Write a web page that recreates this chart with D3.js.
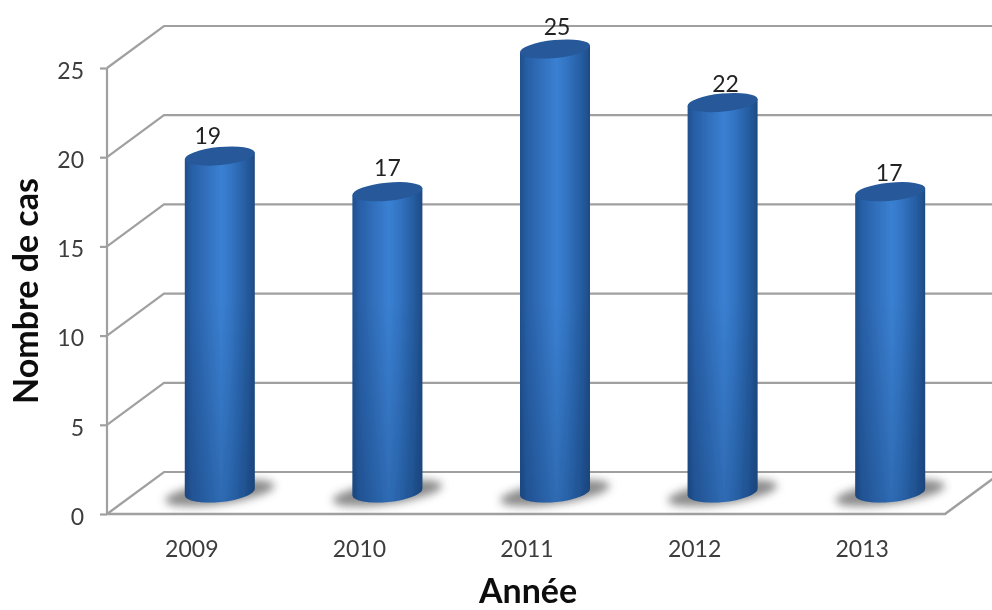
<!DOCTYPE html>
<html><head><meta charset="utf-8">
<script src="https://cdn.jsdelivr.net/npm/d3@7"></script>
<style>html,body{margin:0;padding:0;background:#fff}svg{display:block}text{font-family:Lato,"Open Sans",sans-serif}</style>
</head><body><div id="c"></div>
<script>
const years = ["2009","2010","2011","2012","2013"];
const cases = [19,17,25,22,17];
const yTicks = [0,5,10,15,20,25];
const yTitle = "Nombre de cas";
const xTitle = "Année";
// hand placement of the value labels relative to each bar top
const labelDx = [-12,0,2,3,-1];
const labelDy = [-11,-15,-13,-10,-10];

const W=992,H=610;
const x=d3.scaleBand().domain(years).range([107,945]);
const y=d3.scaleLinear().domain([0,25]).range([514,68]);
const depthX=57, depthY=42, barShift=29, rx=35, ryTop=9, ryBase=10, tilt=-5.7, topOff=19, baseOff=22;
const gridCol="#a0a0a0", tickCol="#3d3d3d", ink="#222";
const svg=d3.select("#c").append("svg").attr("width",W).attr("height",H);
const defs=svg.append("defs");
const g=defs.append("linearGradient").attr("id","body");
[[0,"#204f8c"],[.1,"#285fa6"],[.52,"#3a80d2"],[.66,"#3375c4"],[.88,"#255c9f"],[1,"#1e4b85"]]
 .forEach(s=>g.append("stop").attr("offset",s[0]).attr("stop-color",s[1]));
const dark=defs.append("linearGradient").attr("id","shade").attr("gradientUnits","userSpaceOnUse")
 .attr("x1",0).attr("x2",0).attr("y1",y(12)).attr("y2",y(0));
dark.append("stop").attr("offset",0).attr("stop-color","#0b2a55").attr("stop-opacity",0);
dark.append("stop").attr("offset",1).attr("stop-color","#0b2a55").attr("stop-opacity",.26);
defs.append("filter").attr("id","blur").attr("x","-30%").attr("y","-80%").attr("width","160%").attr("height","260%")
 .append("feGaussianBlur").attr("stdDeviation",4);
defs.append("filter").attr("id","soft").attr("filterUnits","userSpaceOnUse").attr("x",0).attr("y",0).attr("width",W).attr("height",H)
 .append("feGaussianBlur").attr("stdDeviation",0.45);

const root=svg.append("g").attr("filter","url(#soft)");
const walls=root.append("g");
walls.selectAll("path.grid").data(yTicks).join("path").attr("class","grid")
 .attr("fill","none").attr("stroke",gridCol).attr("stroke-width",2.2)
 .attr("d",d=>`M${x.range()[0]},${y(d)}L${x.range()[0]+depthX},${y(d)-depthY}H${W}`);
walls.append("path").attr("fill","none").attr("stroke",gridCol).attr("stroke-width",2.5)
 .attr("d",`M${x.range()[0]},${y(0)}H${x.range()[1]}L${x.range()[1]+depthX},${y(0)-depthY}`);

const axisY=d3.axisLeft(y).tickValues(yTicks).tickSize(7).tickPadding(16).tickFormat(d3.format("d"));
const ay=root.append("g").attr("transform",`translate(${x.range()[0]},0)`).call(axisY);
ay.selectAll(".domain,line").attr("stroke",gridCol).attr("stroke-width",2.2);
ay.select(".domain").attr("d",`M0,${y(0)}V${y(25)}`);
ay.selectAll("text").style("font-size","23px").attr("fill",tickCol).attr("y",3);

const axisX=d3.axisBottom(x).tickSize(0).tickPadding(27);
const ax=root.append("g").attr("transform",`translate(1,${y(0)})`).call(axisX);
ax.select(".domain").remove();
ax.selectAll("text").style("font-size","23px").attr("fill",tickCol);

const bar=root.selectAll("g.bar").data(years.map((k,i)=>({k,v:cases[i],i}))).join("g").attr("class","bar")
 .attr("transform",d=>`translate(${x(d.k)+x.bandwidth()/2+barShift},0)`);
const baseY=y(0)-baseOff;
const tan=Math.tan(tilt*Math.PI/180)*rx;
bar.append("ellipse").attr("rx",rx+20).attr("ry",11)
 .attr("transform",`translate(0,${baseY+1}) rotate(-8)`)
 .attr("fill","#6e6e6e").attr("opacity",.8).attr("filter","url(#blur)");
const bodyPath=d=>{const t=y(d.v)-topOff;
   return `M${-rx},${t-tan}L${rx},${t+tan}L${rx},${baseY+tan}A${rx},${ryBase} ${tilt} 0 1 ${-rx},${baseY-tan}Z`;};
bar.append("path").attr("fill","url(#body)").attr("d",bodyPath);
bar.append("path").attr("fill","url(#shade)").attr("d",bodyPath);
bar.append("ellipse").attr("rx",rx+.2).attr("ry",ryTop)
 .attr("transform",d=>`translate(0,${y(d.v)-topOff}) rotate(${tilt})`).attr("fill","#25599a");
bar.append("text").attr("text-anchor","middle").attr("y",d=>y(d.v)-topOff+labelDy[d.i]-1)
 .attr("x",d=>labelDx[d.i]).style("font-size","23px").attr("fill",ink).text(d=>d.v);

root.append("text").attr("transform","translate(38,291) rotate(-90)").attr("text-anchor","middle")
 .style("font-size","34px").style("font-weight","700").attr("fill","#111").text(yTitle);
root.append("text").attr("x",528).attr("y",603).attr("text-anchor","middle")
 .style("font-size","34px").style("font-weight","700").attr("fill","#111").text(xTitle);
</script></body></html>
